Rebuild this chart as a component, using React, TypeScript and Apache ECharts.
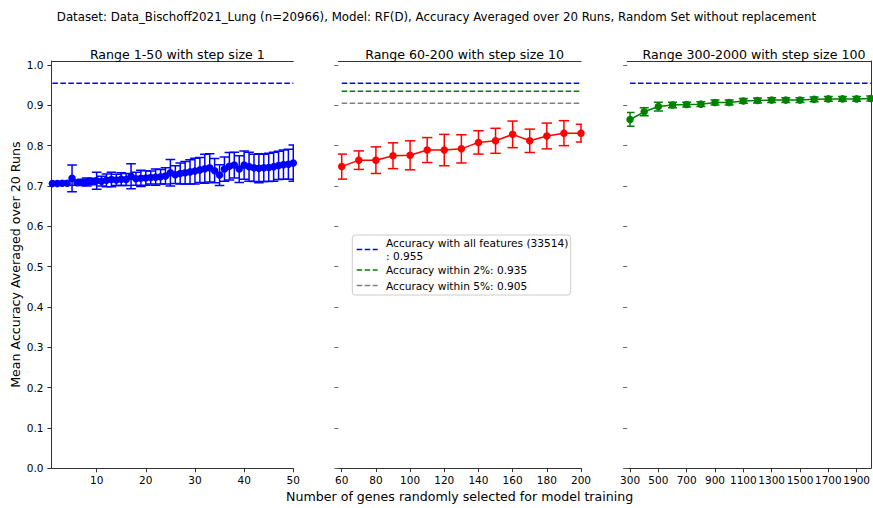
import React, { useEffect, useRef } from "react";
import * as echarts from "echarts";

const FONT = "DejaVu Sans";

// Range 1-50, step 1
const genesSmall = [
  1, 2, 3, 4, 5, 6, 7, 8, 9, 10, 11, 12, 13, 14, 15, 16, 17, 18, 19, 20, 21, 22, 23, 24, 25,
  26, 27, 28, 29, 30, 31, 32, 33, 34, 35, 36, 37, 38, 39, 40, 41, 42, 43, 44, 45, 46, 47, 48, 49, 50,
];
const accSmall = [
  0.706, 0.706, 0.707, 0.707, 0.719, 0.708, 0.709, 0.71, 0.711, 0.713,
  0.712, 0.714, 0.716, 0.715, 0.717, 0.716, 0.724, 0.718, 0.719, 0.72,
  0.721, 0.722, 0.723, 0.725, 0.733, 0.728, 0.731, 0.733, 0.735, 0.737,
  0.74, 0.743, 0.745, 0.738, 0.727, 0.742, 0.749, 0.752, 0.742, 0.752,
  0.748, 0.745, 0.744, 0.745, 0.746, 0.748, 0.751, 0.753, 0.754, 0.757,
];
const errSmall = [
  0.004, 0.004, 0.004, 0.005, 0.033, 0.006, 0.008, 0.01, 0.008, 0.021,
  0.012, 0.016, 0.018, 0.014, 0.016, 0.015, 0.031, 0.016, 0.02, 0.018,
  0.016, 0.02, 0.018, 0.02, 0.033, 0.022, 0.026, 0.028, 0.03, 0.032,
  0.031, 0.036, 0.035, 0.03, 0.026, 0.03, 0.034, 0.032, 0.033, 0.035,
  0.036, 0.034, 0.036, 0.034, 0.035, 0.036, 0.035, 0.036, 0.037, 0.045,
];

// Range 60-200, step 10
const genesMid = [60, 70, 80, 90, 100, 110, 120, 130, 140, 150, 160, 170, 180, 190, 200];
const accMid = [
  0.748, 0.764, 0.764, 0.775, 0.776, 0.789, 0.789, 0.792, 0.808, 0.812, 0.828, 0.812, 0.824, 0.831, 0.831,
];
const errMid = [
  0.031, 0.023, 0.033, 0.032, 0.036, 0.031, 0.039, 0.035, 0.029, 0.031, 0.033, 0.029, 0.032, 0.031, 0.022,
];

// Range 300-2000, step 100
const genesLarge = [
  300, 400, 500, 600, 700, 800, 900, 1000, 1100, 1200, 1300, 1400, 1500, 1600, 1700, 1800, 1900, 2000,
];
const accLarge = [
  0.865, 0.884, 0.897, 0.901, 0.902, 0.903, 0.907, 0.907, 0.911, 0.912, 0.913, 0.913, 0.913, 0.915,
  0.916, 0.916, 0.916, 0.917,
];
const errLarge = [
  0.017, 0.01, 0.011, 0.007, 0.006, 0.006, 0.006, 0.006, 0.006, 0.006, 0.006, 0.006, 0.006, 0.006,
  0.006, 0.006, 0.006, 0.006,
];

// Reference accuracies
const allFeatureCount = 33514;
const accAllFeatures = 0.955;
const accWithin2 = 0.935;
const accWithin5 = 0.905;

// Tick labels
const yTicks = [0, 0.1, 0.2, 0.3, 0.4, 0.5, 0.6, 0.7, 0.8, 0.9, 1.0];
const xTicksSmall = [10, 20, 30, 40, 50];
const xTicksMid = [60, 80, 100, 120, 140, 160, 180, 200];
const xTicksLarge = [300, 500, 700, 900, 1100, 1300, 1500, 1700, 1900];

const panelTitles = [
  "Range 1-50 with step size 1",
  "Range 60-200 with step size 10",
  "Range 300-2000 with step size 100",
];

const BLUE = "#0000ff";
const RED = "#ff0000";
const GREEN = "#008000";
const GRAY = "#808080";
const SPINE = "#333333";

const TOP = 61;
const HEIGHT = 407.3;
const panels = [
  { left: 51.4, width: 241.9, min: 0.8, max: 50, ticks: xTicksSmall },
  { left: 338.3, width: 242.7, min: 58, max: 200, ticks: xTicksMid },
  { left: 627.2, width: 243.6, min: 280, max: 2000, ticks: xTicksLarge },
];

const DASH = [5.5, 2.5];
const TICK_FONT = 10.5;
const TITLE_FONT = 12.6;

function errorBars(idx: number, xs: number[], ys: number[], es: number[], color: string, cap: number) {
  return {
    type: "custom",
    xAxisIndex: idx,
    yAxisIndex: idx,
    clip: true,
    z: 2,
    silent: true,
    data: xs.map((x, i) => [x, ys[i], es[i]]),
    renderItem: (_params: any, api: any) => {
      const x = api.value(0);
      const y = api.value(1);
      const e = api.value(2);
      const hi = api.coord([x, y + e]);
      const lo = api.coord([x, y - e]);
      const style = { stroke: color, lineWidth: 1.5 };
      return {
        type: "group",
        children: [
          { type: "line", shape: { x1: hi[0], y1: hi[1], x2: lo[0], y2: lo[1] }, style },
          { type: "line", shape: { x1: hi[0] - cap, y1: hi[1], x2: hi[0] + cap, y2: hi[1] }, style },
          { type: "line", shape: { x1: lo[0] - cap, y1: lo[1], x2: lo[0] + cap, y2: lo[1] }, style },
        ],
      };
    },
  };
}

function meanLine(idx: number, xs: number[], ys: number[], color: string) {
  return {
    type: "line",
    xAxisIndex: idx,
    yAxisIndex: idx,
    data: xs.map((x, i) => [x, ys[i]]),
    symbol: "circle",
    symbolSize: 7.5,
    z: 3,
    itemStyle: { color },
    lineStyle: { color, width: 1.5 },
    silent: true,
  };
}

function refLine(idx: number, xs: number[], value: number, color: string) {
  return {
    type: "line",
    xAxisIndex: idx,
    yAxisIndex: idx,
    data: [
      [xs[0], value],
      [xs[xs.length - 1], value],
    ],
    symbol: "none",
    z: 1,
    lineStyle: { color, width: 1.5, type: DASH },
    silent: true,
  };
}

function legendGraphic() {
  const x0 = 352.3;
  const y0 = 235;
  const hx1 = 356.7;
  const hx2 = 377.7;
  const tx = 386;
  const label = (text: string, y: number) => ({
    type: "text",
    x: tx,
    y,
    style: {
      text,
      fontFamily: FONT,
      fontSize: 10.6,
      lineHeight: 12.4,
      fill: "#000",
      verticalAlign: "middle",
    },
  });
  const handle = (y: number, color: string) => ({
    type: "line",
    shape: { x1: hx1, y1: y, x2: hx2, y2: y },
    style: { stroke: color, lineWidth: 1.5, lineDash: DASH },
  });
  return {
    type: "group",
    z: 100,
    children: [
      {
        type: "rect",
        shape: { x: x0, y: y0, width: 218.4, height: 60, r: 3 },
        style: { fill: "rgba(255,255,255,0.8)", stroke: "#cccccc", lineWidth: 1 },
      },
      handle(249.5, BLUE),
      label(`Accuracy with all features (${allFeatureCount})\n: ${accAllFeatures}`, 249.5),
      handle(270, GREEN),
      label(`Accuracy within 2%: ${accWithin2}`, 270),
      handle(285.5, GRAY),
      label(`Accuracy within 5%: ${accWithin5}`, 285.5),
    ],
  };
}

export default function App() {
  const ref = useRef<HTMLDivElement>(null);

  useEffect(() => {
    if (!ref.current) return;
    const chart = echarts.init(ref.current, undefined, { renderer: "svg" });

    const grids = panels.map((p) => ({ left: p.left, width: p.width, top: TOP, height: HEIGHT }));

    const bottomAxes = panels.map((p, i) => ({
      type: "value",
      gridIndex: i,
      position: "bottom",
      min: p.min,
      max: p.max,
      axisLine: { show: true, onZero: false, lineStyle: { color: SPINE, width: 1 } },
      axisTick: { show: true, length: 4, customValues: p.ticks, lineStyle: { color: SPINE } },
      axisLabel: {
        show: true,
        customValues: p.ticks,
        formatter: (v: number) => String(v),
        showMinLabel: true,
        showMaxLabel: true,
        hideOverlap: false,
        fontFamily: FONT,
        fontSize: TICK_FONT,
        color: "#000",
        margin: 6,
      },
      splitLine: { show: false },
      ...(i === 1
        ? {
            name: "Number of genes randomly selected for model training",
            nameLocation: "middle",
            nameGap: 21,
            nameTextStyle: { fontFamily: FONT, fontSize: TITLE_FONT, color: "#000" },
          }
        : {}),
    }));

    const topAxes = panels.map((p, i) => ({
      type: "value",
      gridIndex: i,
      position: "top",
      min: p.min,
      max: p.max,
      axisLine: { show: true, onZero: false, lineStyle: { color: SPINE, width: 1 } },
      axisTick: { show: false },
      axisLabel: { show: false },
      splitLine: { show: false },
    }));

    const leftAxes = panels.map((_p, i) => ({
      type: "value",
      gridIndex: i,
      position: "left",
      min: 0,
      max: 1.01,
      axisLine: { show: i === 0, onZero: false, lineStyle: { color: SPINE, width: 1 } },
      axisTick: { show: true, length: 4, customValues: yTicks, lineStyle: { color: i === 0 ? SPINE : "#666" } },
      axisLabel: {
        show: i === 0,
        customValues: yTicks,
        formatter: (v: number) => v.toFixed(1),
        showMinLabel: true,
        showMaxLabel: true,
        fontFamily: FONT,
        fontSize: TICK_FONT,
        color: "#000",
        margin: 8,
      },
      splitLine: { show: false },
      ...(i === 0
        ? {
            name: "Mean Accuracy Averaged over 20 Runs",
            nameLocation: "middle",
            nameGap: 29,
            nameRotate: 90,
            nameTextStyle: { fontFamily: FONT, fontSize: TITLE_FONT, color: "#000" },
          }
        : {}),
    }));

    const rightSpine = {
      type: "value",
      gridIndex: 2,
      position: "right",
      min: 0,
      max: 1.01,
      axisLine: { show: true, onZero: false, lineStyle: { color: SPINE, width: 1 } },
      axisTick: { show: false },
      axisLabel: { show: false },
      splitLine: { show: false },
    };

    const titles = [
      {
        text: "Dataset: Data_Bischoff2021_Lung (n=20966), Model: RF(D), Accuracy Averaged over 20 Runs, Random Set without replacement",
        left: "center",
        top: 6,
        textStyle: { fontFamily: FONT, fontSize: 11.8, fontWeight: "normal", color: "#000" },
      },
      ...panels.map((p, i) => ({
        text: panelTitles[i],
        left: p.left + p.width / 2,
        textAlign: "center",
        top: 43,
        textStyle: { fontFamily: FONT, fontSize: TITLE_FONT, fontWeight: "normal", color: "#000" },
      })),
    ];

    chart.setOption({
      animation: false,
      backgroundColor: "#ffffff",
      title: titles,
      grid: grids,
      xAxis: [...bottomAxes, ...topAxes],
      yAxis: [...leftAxes, rightSpine],
      series: [
        refLine(0, genesSmall, accAllFeatures, BLUE),
        errorBars(0, genesSmall, accSmall, errSmall, BLUE, 4.8),
        meanLine(0, genesSmall, accSmall, BLUE),

        refLine(1, genesMid, accAllFeatures, BLUE),
        refLine(1, genesMid, accWithin2, GREEN),
        refLine(1, genesMid, accWithin5, GRAY),
        errorBars(1, genesMid, accMid, errMid, RED, 5.2),
        meanLine(1, genesMid, accMid, RED),

        refLine(2, genesLarge, accAllFeatures, BLUE),
        errorBars(2, genesLarge, accLarge, errLarge, GREEN, 4.5),
        meanLine(2, genesLarge, accLarge, GREEN),
      ],
      graphic: [legendGraphic()],
    });

    return () => chart.dispose();
  }, []);

  return (
    <div
      ref={ref}
      style={{ position: "fixed", left: 0, top: 0, width: 873, height: 508, background: "#fff" }}
    />
  );
}
